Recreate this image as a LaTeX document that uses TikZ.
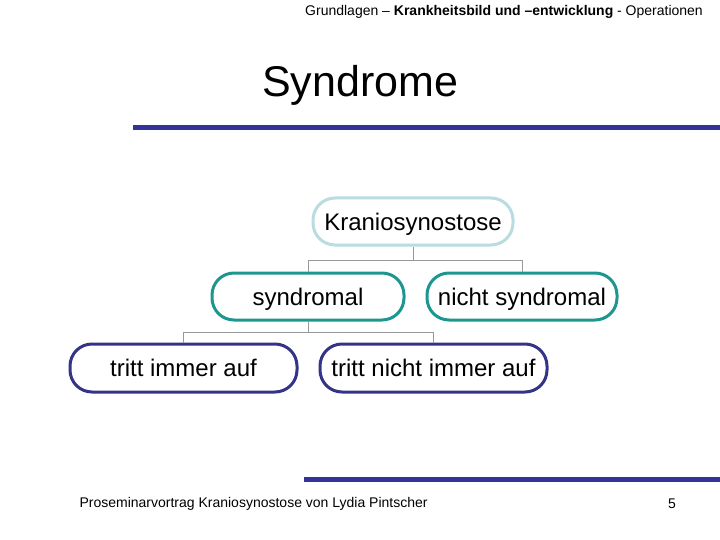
\documentclass[tikz,border=0pt]{standalone}
\usepackage{fontspec}
\setmainfont{Liberation Sans}
\definecolor{lteal}{HTML}{B8DCE0}
\definecolor{teal2}{HTML}{1E9690}
\definecolor{navy}{HTML}{333388}
\definecolor{barblue}{HTML}{333399}
\definecolor{linegrey}{HTML}{999999}
\begin{document}
\begin{tikzpicture}[x=1pt,y=-1pt,
  pill/.style={draw, line width=3pt, rounded corners=22pt, fill=white, inner sep=0pt, text height=17.2pt, text depth=0pt, font=\fontsize{24}{28}\selectfont},
  conn/.style={draw=linegrey, line width=1pt}]
\useasboundingbox (0,0) rectangle (720,540);
% header
\node[anchor=center, font=\fontsize{14}{16}\selectfont] (hdr) at (504,12) {Grundlagen -- \textbf{Krankheitsbild und --entwicklung} - Operationen};
\node[anchor=center, font=\fontsize{43}{50}\selectfont] (title) at (360,85) {Syndrome};
\fill[barblue] (133,125) rectangle (720,130);
% nodes
\node[pill, draw=lteal, minimum width=200pt, minimum height=47pt] (root) at (413,221.5) {Kraniosynostose};
\node[pill, draw=teal2, minimum width=192pt, minimum height=47pt] (syn) at (308,296.5) {syndromal};
\node[pill, draw=teal2, minimum width=190pt, minimum height=47pt] (nsyn) at (522,296.5) {nicht syndromal};
\node[pill, draw=navy, minimum width=227pt, minimum height=48pt] (imm) at (183.5,368) {tritt immer auf};
\node[pill, draw=navy, minimum width=227pt, minimum height=48pt] (nimm) at (433.5,368) {tritt nicht immer auf};
% connectors
\coordinate (j1) at (413,260);
\coordinate (j2) at (308,332);
\draw[conn] (root.south) -- (j1);
\draw[conn] (j1) -| (syn.north);
\draw[conn] (j1) -| (nsyn.north);
\draw[conn] (syn.south) -- (j2);
\draw[conn] (j2) -| (imm.north);
\draw[conn] (j2) -| (nimm.north);
% footer
\fill[barblue] (304,477) rectangle (720,482);
\node[anchor=west, font=\fontsize{14}{16}\selectfont] (foot) at (76,504) {Proseminarvortrag Kraniosynostose von Lydia Pintscher};
\node[anchor=center, font=\fontsize{14}{16}\selectfont] (pg) at (672,504) {5};
\end{tikzpicture}
\end{document}
